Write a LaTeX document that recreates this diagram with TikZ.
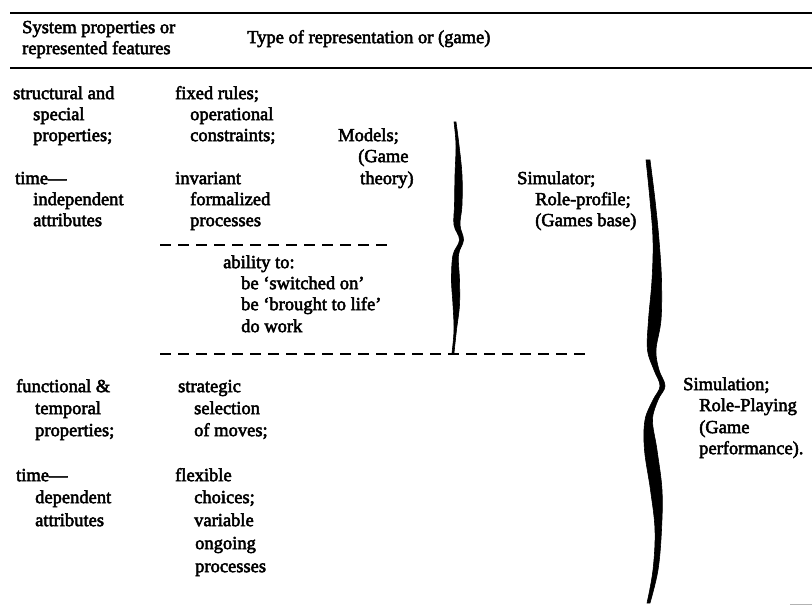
\documentclass[tikz,border=0pt]{standalone}
\usepackage{fontspec}
\newfontfamily\tf{Liberation Serif}[Ligatures=TeX]
\newcommand\heavyon{\special{pdf:literal direct 2 Tr 0.5 w}}
\newcommand\heavyoff{\special{pdf:literal direct 0 Tr}}
\begin{document}
\begin{tikzpicture}[x=1pt,y=-1pt,
  t/.style={anchor=mid west, inner sep=0pt, font=\tf\fontsize{18.5}{22}\selectfont,
    execute at begin node=\heavyon, execute at end node=\heavyoff},
  rulebar/.style={line width=2.8pt},
  dashrule/.style={line width=2.2pt, dash pattern=on 11pt off 7pt},
  bracefill/.style={fill=black, draw=black, line width=0.6pt}]
\useasboundingbox (0,0) rectangle (812,609);
\fill[white] (0,0) rectangle (812,609);
% rules
\draw[rulebar] (10,13) -- (812,13);
\draw[line width=2.2pt] (10,68) -- (812,68);
\draw[line width=1pt, gray!60] (790,604) -- (812,604);
% header
\node[t] (h1) at (22,31) {System properties or};
\node[t] (h2) at (22,52) {represented features};
\node[t] (h3) at (247,41) {Type of representation or (game)};
% upper left block
\node[t] (a1) at (13,97) {structural and};
\node[t] (a2) at (33,118) {special};
\node[t] (a3) at (33,139) {properties;};
\node[t] (a4) at (15,182) {time—};
\node[t] (a5) at (33,203) {independent};
\node[t] (a6) at (33,224) {attributes};
\node[t] (b1) at (175,97) {fixed rules;};
\node[t] (b2) at (190,118) {operational};
\node[t] (b3) at (190,139) {constraints;};
\node[t] (b4) at (175,182) {invariant};
\node[t] (b5) at (190,203) {formalized};
\node[t] (b6) at (190,224) {processes};
\node[t] (m1) at (338,139) {Models;};
\node[t] (m2) at (358,160) {(Game};
\node[t] (m3) at (360,182) {theory)};
\node[t] (s1) at (517,182) {Simulator;};
\node[t] (s2) at (535,203) {Role-profile;};
\node[t] (s3) at (535,224) {(Games base)};
% dashed 1
\coordinate (d1a) at (160,245);
\coordinate (d1b) at (387,245);
\draw[dashrule] (d1a) -- (d1b);
\node[t] (c1) at (223,266) {ability to:};
\node[t] (c2) at (241,287) {be ‘switched on’};
\node[t] (c3) at (241,308) {be ‘brought to life’};
\node[t] (c4) at (241,330) {do work};
% dashed 2
\coordinate (d2a) at (160,354);
\coordinate (d2b) at (585,354);
\draw[dashrule] (d2a) -- (d2b);
% lower block
\node[t] (e1) at (16,390) {functional \&};
\node[t] (e2) at (35,412) {temporal};
\node[t] (e3) at (35,434) {properties;};
\node[t] (e4) at (16,479) {time—};
\node[t] (e5) at (35,501) {dependent};
\node[t] (e6) at (35,524) {attributes};
\node[t] (f1) at (178,390) {strategic};
\node[t] (f2) at (194,412) {selection};
\node[t] (f3) at (194,434) {of moves;};
\node[t] (f4) at (175,479) {flexible};
\node[t] (f5) at (194,501) {choices;};
\node[t] (f6) at (194,524) {variable};
\node[t] (f7) at (195,547) {ongoing};
\node[t] (f8) at (195,570) {processes};
\node[t] (g1) at (683,388) {Simulation;};
\node[t] (g2) at (699,409) {Role-Playing};
\node[t] (g3) at (699,431) {(Game};
\node[t] (g4) at (699,452) {performance).};
% small brace
\fill[bracefill] plot[smooth, tension=0.6] coordinates {
 (456,122) (459,145) (462,175) (462,205) (460,225) (463.5,240) (458.5,255)
 (459.5,280) (459.5,305) (456.5,330) (454,353)}
 -- plot[smooth, tension=0.6] coordinates {
 (452,353) (454,330) (453,305) (451.5,280) (453,255) (459.5,240) (454,225)
 (454.5,205) (455,175) (456,145) (454,122)} -- cycle;
% big brace
\fill[bracefill] plot[smooth, tension=0.6] coordinates {
 (650,160) (655,200) (659,240) (661.5,280) (661,320) (656,350) (659,370)
 (665,386) (658,400) (652.5,420) (657,450) (662,490) (661.5,530) (658,570) (650,603)}
 -- plot[smooth, tension=0.6] coordinates {
 (647,603) (653,570) (655,530) (650.5,490) (644.5,450) (645,420) (653,400)
 (660,386) (654,370) (647.5,350) (648.5,320) (652,280) (653,240) (650,200) (646,160)} -- cycle;
\end{tikzpicture}
\end{document}
